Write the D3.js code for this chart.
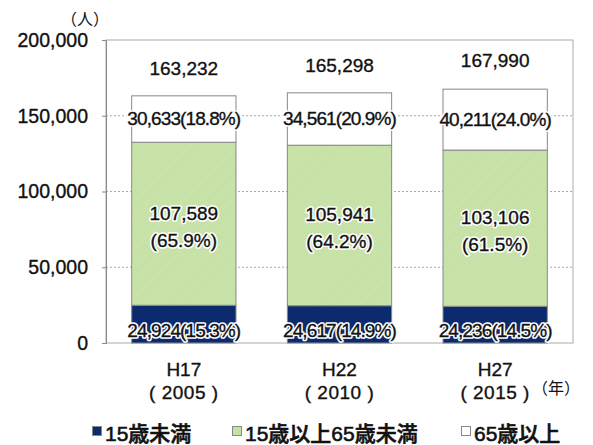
<!DOCTYPE html>
<html>
<head>
<meta charset="utf-8">
<script src="https://cdn.jsdelivr.net/npm/d3@7"></script>
<style>
  body { margin: 0; background: #fff; }
  text { font-family: "Liberation Sans", Arial, "Noto Sans CJK JP", sans-serif; fill: #111; }
  .thick { stroke: #111; stroke-width: 0.35px; }
  .halo { fill: #fff; stroke: #fff; stroke-width: 3.5px; stroke-linejoin: round; }
</style>
</head>
<body>
<svg id="chart"></svg>
<script>
// data
var eras = ["H17", "H22", "H27"];
var years = ["(2005)", "(2010)", "(2015)"];
var under15 = [24924, 24617, 24236];
var working = [107589, 105941, 103106];
var over65 = [30633, 34561, 40211];
var totals = [163232, 165298, 167990];
var under15Pct = ["15.3", "14.9", "14.5"];
var workingPct = ["65.9", "64.2", "61.5"];
var over65Pct = ["18.8", "20.9", "24.0"];
var yTicks = [0, 50000, 100000, 150000, 200000];
var legendLabels = ["15歳未満", "15歳以上65歳未満", "65歳以上"];

var width = 593, height = 445;
var plotLeft = 106, plotRight = 573, plotTop = 40, plotBottom = 343;
var colors = ["#0c2a6e", "url(#hatch)", "#ffffff"];
var fmt = d3.format(",");

var svg = d3.select('#chart')
  .attr('width', width)
  .attr('height', height);

// green hatch fill
var pat = svg.append('defs').append('pattern')
  .attr('id', 'hatch')
  .attr('patternUnits', 'userSpaceOnUse')
  .attr('width', 2).attr('height', 2)
  .attr('patternTransform', 'rotate(45)');
pat.append('rect').attr('width', 2).attr('height', 2).attr('fill', '#d0e8b4');
pat.append('rect').attr('width', 1).attr('height', 2).attr('fill', '#bfdc9c');

var rows = eras.map((e, i) => ({era: e, under15: under15[i], working: working[i], over65: over65[i]}));
var keys = ["under15", "working", "over65"];
var series = d3.stack().keys(keys)(rows);

var x = d3.scaleBand()
  .domain(eras)
  .range([plotLeft, plotRight])
  .paddingInner(0.33)
  .paddingOuter(0.165);

var y = d3.scaleLinear()
  .domain([0, 200000])
  .range([plotBottom, plotTop]);

var cx = era => x(era) + x.bandwidth() / 2;

// grid
svg.append('g')
  .selectAll('line')
  .data(yTicks.filter(d => d > 0 && d < 200000))
  .enter()
  .append('line')
    .attr('x1', plotLeft).attr('x2', plotRight)
    .attr('y1', d => y(d)).attr('y2', d => y(d))
    .attr('stroke', '#aaa')
    .attr('stroke-dasharray', '2,2');

// frame
svg.append('rect')
  .attr('x', plotLeft).attr('y', plotTop)
  .attr('width', plotRight - plotLeft).attr('height', plotBottom - plotTop)
  .attr('fill', 'none')
  .attr('stroke', '#aaa');

// y axis
var yAxis = svg.append('g')
  .attr('transform', `translate(${plotLeft},0)`)
  .call(d3.axisLeft(y).tickValues(yTicks).tickFormat(fmt).tickSize(4).tickPadding(14));
yAxis.select('.domain').attr('stroke', '#888');
yAxis.selectAll('.tick line').attr('stroke', '#888');
yAxis.selectAll('.tick text')
  .attr('class', 'thick')
  .attr('font-size', 19.5)
  .attr('fill', '#111')
  .attr('font-family', '"Liberation Sans", Arial, sans-serif');

// bars
svg.append('g')
  .selectAll('g')
  .data(series)
  .enter()
  .append('g')
    .attr('fill', (d, i) => colors[i])
  .selectAll('rect')
  .data(d => d)
  .enter()
  .append('rect')
    .attr('x', d => x(d.data.era))
    .attr('y', d => y(d[1]))
    .attr('width', x.bandwidth())
    .attr('height', d => y(d[0]) - y(d[1]))
    .attr('stroke', '#888')
    .attr('stroke-width', 1);

var labels = svg.append('g').attr('text-anchor', 'middle').attr('font-size', 19);

// totals above
labels.selectAll('.total')
  .data(rows)
  .enter()
  .append('text')
    .attr('class', 'thick')
    .attr('x', d => cx(d.era))
    .attr('y', (d, i) => y(totals[i]) - 21)
    .text((d, i) => fmt(totals[i]));

// in-bar labels: white halo copy first, then the text
['halo', 'thick'].forEach(cls => {
  // 65+
  labels.append('g').selectAll('text')
    .data(series[2])
    .enter()
    .append('text')
      .attr('class', cls)
      .attr('letter-spacing', -0.9)
      .attr('x', d => cx(d.data.era))
      .attr('y', d => (y(d[0]) + y(d[1])) / 2 + 6)
      .text((d, i) => fmt(over65[i]) + "(" + over65Pct[i] + "%)");

  // working age, two lines
  var mid = labels.append('g').selectAll('text')
    .data(series[1])
    .enter()
    .append('text')
      .attr('class', cls)
      .attr('x', d => cx(d.data.era))
      .attr('y', d => (y(d[0]) + y(d[1])) / 2 - 4);
  mid.append('tspan').text((d, i) => fmt(working[i]));
  mid.append('tspan')
    .attr('x', d => cx(d.data.era))
    .attr('dy', 27)
    .text((d, i) => "(" + workingPct[i] + "%)");

  // under 15
  labels.append('g').selectAll('text')
    .data(series[0])
    .enter()
    .append('text')
      .attr('class', cls)
      .attr('letter-spacing', -0.9)
      .attr('x', d => cx(d.data.era))
      .attr('y', d => y(0) - 6)
      .text((d, i) => fmt(under15[i]) + "(" + under15Pct[i] + "%)");
});

// x labels
var xl = svg.append('g').attr('text-anchor', 'middle').attr('font-size', 19);
xl.selectAll('.era')
  .data(eras)
  .enter()
  .append('text')
    .attr('class', 'thick')
    .attr('x', d => cx(d))
    .attr('y', 376)
    .text(d => d);
xl.selectAll('.yr')
  .data(years)
  .enter()
  .append('text')
    .attr('class', 'thick')
    .attr('x', (d, i) => cx(eras[i]))
    .attr('y', 399)
    .attr('letter-spacing', 0.5)
    .text(d => d.replace("(", "( ").replace(")", " )"));

// unit labels
svg.append('text')
  .attr('x', 85).attr('y', 25)
  .attr('text-anchor', 'middle')
  .attr('font-size', 16)
  .attr('font-family', '"Noto Sans CJK JP", sans-serif')
  .text("（人）");
svg.append('text')
  .attr('x', 556).attr('y', 394)
  .attr('text-anchor', 'middle')
  .attr('font-size', 16)
  .attr('font-family', '"Noto Sans CJK JP", sans-serif')
  .text("（年）");

// legend
var legendX = [92, 232, 461];
var legendSwatch = ["#0c2a6e", "#c6e2a2", "#ffffff"];
var lg = svg.append('g')
  .selectAll('g')
  .data(legendLabels)
  .enter()
  .append('g')
    .attr('transform', (d, i) => `translate(${legendX[i]},0)`);
lg.append('rect')
  .attr('x', 0.5).attr('y', 426.5)
  .attr('width', 9).attr('height', 9)
  .attr('fill', (d, i) => legendSwatch[i])
  .attr('stroke', '#888');
lg.append('text')
  .attr('x', 13).attr('y', 441)
  .attr('font-size', 21)
  .attr('font-weight', 500)
  .attr('stroke', '#111')
  .attr('stroke-width', 0.6)
  .attr('font-family', '"Liberation Sans", "Noto Sans CJK JP", sans-serif')
  .text(d => d);
</script>
</body>
</html>
